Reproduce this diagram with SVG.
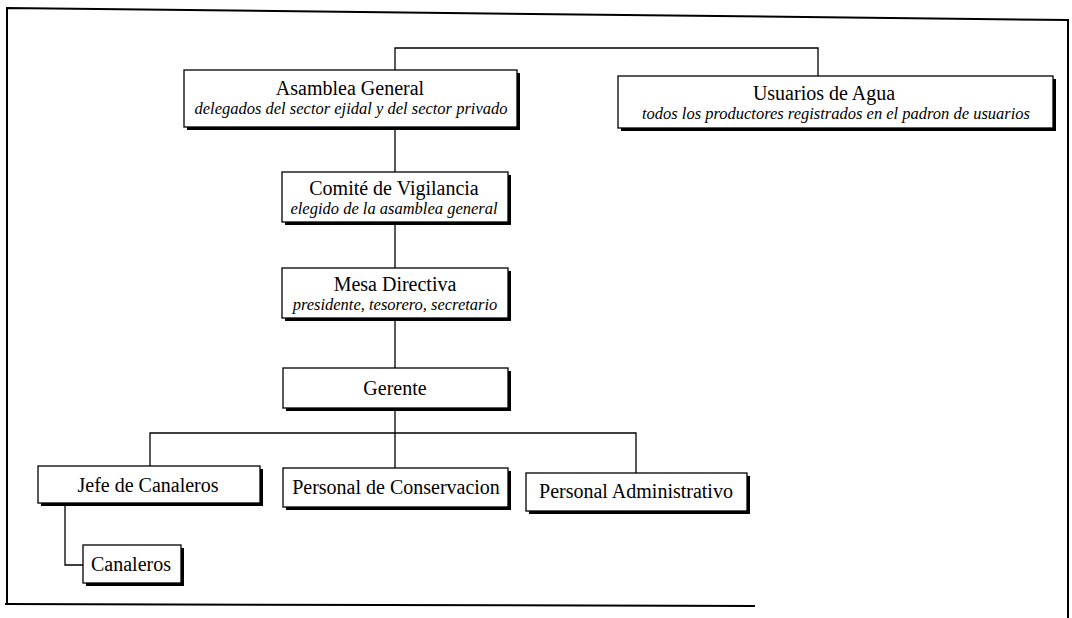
<svg xmlns="http://www.w3.org/2000/svg" width="1072" height="618" viewBox="0 0 1072 618">
<style>
.box{fill:#fff;stroke:#000;stroke-width:1.3}
.sh{fill:#000}
.t{font-family:"Liberation Serif","Times New Roman",serif;font-size:20px;fill:#000;text-anchor:middle}
.s{font-family:"Liberation Serif","Times New Roman",serif;font-size:16.5px;font-style:italic;fill:#000;text-anchor:middle}
.ln{fill:none;stroke:#000;stroke-width:1.3}
.fr{fill:none;stroke:#000;stroke-width:2}
</style>
<rect width="1072" height="618" fill="#fff"/>
<g id="frame">
<path class="fr" d="M7,605 L7,8 L1068,20 L1068,618"/>
<path class="fr" d="M5,604 L755,606"/>
</g>
<g id="connectors">
<path class="ln" d="M395,70 V48 H818 V76"/>
<path class="ln" d="M395,128 V172"/>
<path class="ln" d="M395,222 V268"/>
<path class="ln" d="M395,318 V368"/>
<path class="ln" d="M395,408 V468"/>
<path class="ln" d="M150,466 V433 H636 V473"/>
<path class="ln" d="M65,503 V565 H83"/>
</g>
<g id="asamblea">
<rect class="sh" x="187" y="73" width="333" height="57"/>
<rect class="box" x="184" y="70" width="333" height="57"/>
<text class="t" x="350" y="95">Asamblea General</text>
<text class="s" x="351" y="114">delegados del sector ejidal y del sector privado</text>
</g>
<g id="usuarios">
<rect class="sh" x="621" y="79" width="435" height="52"/>
<rect class="box" x="618" y="76" width="435" height="52"/>
<text class="t" x="824" y="100">Usuarios de Agua</text>
<text class="s" x="836" y="119">todos los productores registrados en el padron de usuarios</text>
</g>
<g id="comite">
<rect class="sh" x="285" y="175" width="226" height="50"/>
<rect class="box" x="282" y="172" width="226" height="50"/>
<text class="t" x="394" y="195">Comité de Vigilancia</text>
<text class="s" x="394" y="214">elegido de la asamblea general</text>
</g>
<g id="mesa">
<rect class="sh" x="285" y="271" width="226" height="50"/>
<rect class="box" x="282" y="268" width="226" height="50"/>
<text class="t" x="395" y="291">Mesa Directiva</text>
<text class="s" x="395" y="310">presidente, tesorero, secretario</text>
</g>
<g id="gerente">
<rect class="sh" x="286" y="371" width="225" height="40"/>
<rect class="box" x="283" y="368" width="225" height="40"/>
<text class="t" x="395" y="395">Gerente</text>
</g>
<g id="jefe">
<rect class="sh" x="41" y="469" width="222" height="37"/>
<rect class="box" x="38" y="466" width="222" height="37"/>
<text class="t" x="148" y="492">Jefe de Canaleros</text>
</g>
<g id="conservacion">
<rect class="sh" x="286" y="471" width="225" height="39"/>
<rect class="box" x="283" y="468" width="225" height="39"/>
<text class="t" x="396" y="494">Personal de Conservacion</text>
</g>
<g id="administrativo">
<rect class="sh" x="529" y="476" width="221" height="38"/>
<rect class="box" x="526" y="473" width="221" height="38"/>
<text class="t" x="636" y="498">Personal Administrativo</text>
</g>
<g id="canaleros">
<rect class="sh" x="86" y="548" width="98" height="38"/>
<rect class="box" x="83" y="545" width="98" height="38"/>
<text class="t" x="131" y="571">Canaleros</text>
</g>
</svg>
